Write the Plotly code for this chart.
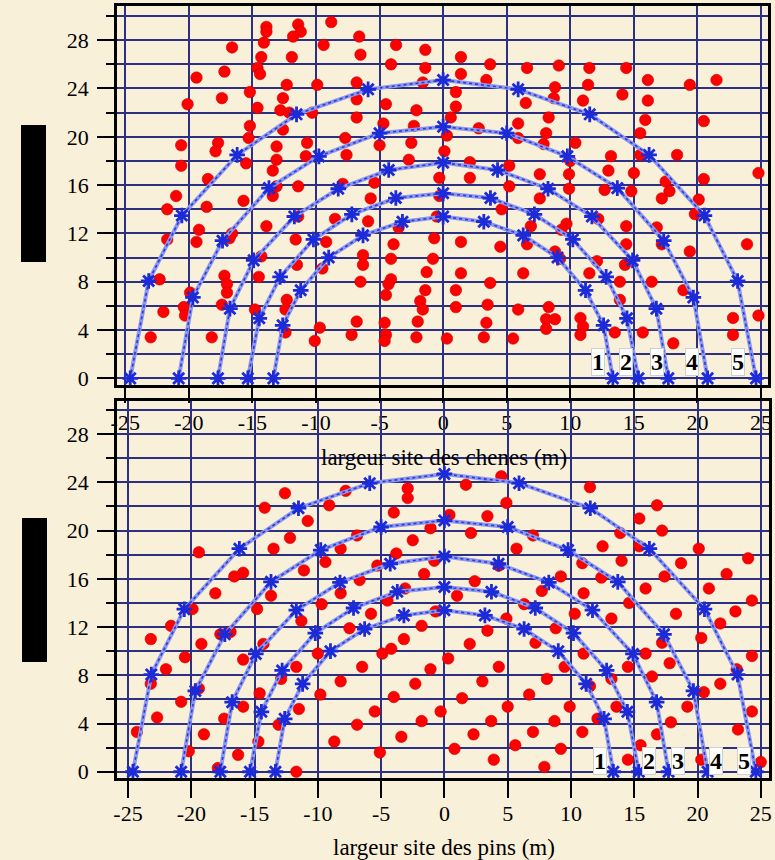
import plotly.graph_objects as go

# ---------------- data ----------------
# red points, upper panel (site des chenes)
top_x = [-13.9,-13.9,-11.4,-11.2,-11.8,-8.8,-6.6,-14.1,-16.6,-9.4,-3.7,-1.4,-6.5,-14.3,-11.9,-4.1,-14.6,-14.4,-17.2,-1.4,
         -19.4,-1.6,-6.8,-12.3,-9.9,-15.2,-20.1,-17.4,-12.6,-6.8,-4.5,-14.6,-12.8,-12.1,-10.3,-2.1,-6.8,-4.7,-2.3,-15.2,
         -12.6,-15.3,-20.6,-17.7,-17.9,-13.1,-13.1,-10.7,-7.7,-5.0,-2.5,-10.8,-7.6,-2.7,-20.6,-15.5,-13.4,-18.5,-5.4,-0.3,
         -11.4,-7.9,-13.1,-13.4,-21.0,-5.7,-15.7,-21.7,-18.6,-0.3,-11.4,-8.5,-5.9,-0.5,-13.9,-19.2,-19.4,-16.6,-16.8,-21.7,
         -3.5,-0.7,-11.6,-9.2,-3.9,-14.3,-6.3,-6.3,-4.1,-0.8,-11.5,-9.5,-1.3,-17.2,-17.0,-17.0,-14.5,-22.3,-6.5,-4.1,
         -4.3,-4.5,-1.4,-19.9,-12.3,-12.4,-1.8,-1.6,-17.4,-20.4,-20.3,-22.0,-14.8,-6.8,-4.6,-2.0,-9.7,-12.4,-23.0,-18.2,
         -7.2,-4.5,-4.6,-2.1,-10.1,0.3,
         1.4,3.7,1.4,3.4,1.0,1.0,0.6,0.3,0.1,6.6,9.1,11.5,14.4,16.1,19.4,21.5,8.8,11.4,14.1,8.7,
         6.5,11.0,16.1,2.8,5.9,8.3,15.9,20.5,5.9,8.1,7.9,15.5,10.4,15.5,13.2,18.4,10.0,2.1,2.1,5.2,
         7.6,9.9,13.0,15.0,24.8,20.5,5.2,9.9,12.7,14.8,17.5,17.8,17.2,7.6,20.1,4.6,19.8,12.2,14.4,6.9,
         9.7,9.3,16.8,6.6,1.4,4.5,14.4,17.2,23.9,19.4,8.8,9.2,14.3,12.1,1.4,6.3,3.7,11.5,13.9,16.4,
         1.0,18.9,13.9,1.0,3.5,5.9,8.3,8.1,8.8,8.1,3.4,10.8,11.0,10.8,13.5,15.7,22.8,24.8,22.8,18.1,
         3.2,5.5]
top_y = [29.1,28.7,29.3,28.7,28.3,29.5,28.3,27.8,27.4,27.6,27.6,27.2,26.8,26.6,26.6,26.0,25.7,25.2,25.4,25.7,
         24.9,24.5,24.5,24.3,24.3,23.7,22.7,23.2,23.2,23.1,22.7,22.4,22.2,22.0,22.0,22.2,21.6,21.1,20.9,20.9,
         20.6,19.9,19.3,19.5,18.8,19.2,18.1,19.5,19.9,19.3,19.5,18.4,18.5,18.1,17.6,17.8,17.2,16.5,16.2,16.6,
         15.9,16.1,15.9,15.1,15.1,14.9,14.7,14.0,14.2,15.1,13.4,13.2,13.0,13.4,12.6,12.3,11.3,12.0,11.6,11.5,
         12.5,11.6,11.5,11.3,11.1,10.1,10.2,9.4,9.9,9.9,9.4,9.1,8.8,8.5,7.8,7.1,8.4,8.2,8.0,8.2,
         7.8,6.9,7.3,7.1,6.5,5.7,6.4,5.7,6.1,5.9,5.2,5.5,5.7,4.7,4.6,4.7,4.2,3.8,3.4,3.4,
         3.6,3.6,3.1,3.4,3.1,3.3,
         26.6,26.0,25.2,24.7,23.7,22.5,21.6,20.1,18.8,25.7,25.9,25.7,25.7,24.7,24.3,24.7,24.1,24.3,23.5,23.2,
         22.8,23.0,23.0,20.7,21.1,21.6,21.4,21.3,19.9,20.3,19.4,20.3,19.5,18.5,18.4,18.5,18.0,17.9,16.6,17.6,
         16.9,16.9,17.2,17.0,17.0,16.5,15.9,15.7,15.6,15.5,16.3,15.5,14.9,14.9,14.8,14.0,13.6,13.2,12.6,12.6,
         12.8,12.3,12.5,11.1,11.3,10.9,11.1,11.1,11.1,10.5,10.5,9.9,9.4,9.7,8.7,8.7,7.9,8.7,8.0,8.0,
         7.3,7.3,6.5,5.9,6.1,5.7,5.9,4.9,4.9,4.1,4.6,5.0,4.3,3.6,3.8,3.8,5.0,5.2,3.6,2.9,
         3.4,3.3]

# red points, lower panel (site des pins)
bot_x = [-12.6,-7.8,-2.9,-2.9,-14.2,-9.1,-4.0,-10.8,-12.2,-6.9,-1.1,-2.5,-19.4,-13.5,-8.2,-3.8,-0.8,-5.3,-9.4,-11.1,
         -15.9,-16.6,-1.6,-6.7,-18.1,-13.7,-8.2,-3.1,-4.5,-19.9,-14.8,-9.7,-0.7,-5.8,-21.6,-11.3,-1.8,-7.5,-23.2,-17.7,
         -16.9,-3.2,-19.2,-14.3,-10.0,-4.9,-4.2,0.3,-20.5,-15.9,-22.0,-11.7,-6.5,-1.1,-23.2,-12.9,-8.2,-2.3,-19.4,-14.6,
         -9.8,-4.0,-20.8,-15.9,-11.5,-5.5,-0.3,-22.7,-17.4,-13.1,-6.9,-1.8,-24.3,-19.0,-3.4,-14.7,-8.7,-20.2,-16.3,-5.1,
         -17.9,-11.7,
         4.5,1.7,11.5,4.9,16.8,0.4,3.4,15.4,2.1,7.0,13.9,17.2,5.7,12.5,15.4,20.1,4.3,10.9,14.0,18.7,
         24.0,2.4,9.2,12.4,17.4,22.3,1.0,7.7,11.0,15.9,20.9,24.3,6.3,14.6,10.3,13.2,18.3,23.0,4.9,3.4,
         8.8,21.8,7.2,2.0,17.2,20.3,11.0,15.9,24.3,4.3,9.5,14.5,17.8,23.1,3.0,8.1,13.2,16.4,21.8,11.5,
         1.4,6.7,20.5,5.0,9.9,13.6,19.2,24.3,3.7,8.7,12.1,17.9,2.3,7.0,10.9,16.8,23.2,0.8,5.6,9.2,
         15.5,3.9,7.9,14.5,20.3,25.0]
bot_y = [23.1,23.3,23.5,22.7,21.9,22.1,21.5,20.8,19.4,19.6,20.2,19.2,18.2,18.5,18.5,18.1,17.5,17.1,17.4,16.7,
         16.5,16.2,16.4,15.9,14.8,14.6,14.8,15.2,14.2,13.5,13.5,13.9,13.3,13.1,12.1,12.5,12.1,11.9,11.0,11.4,
         11.6,11.0,10.6,10.6,9.8,9.8,10.2,9.4,9.5,9.3,8.5,8.7,8.7,8.5,7.3,7.7,7.5,7.3,6.9,6.5,
         6.4,6.2,5.8,5.4,5.2,5.0,5.0,4.5,4.4,3.9,3.9,4.2,3.3,3.1,2.9,2.5,2.5,1.7,1.4,1.6,
         0.3,0.0,
         24.5,23.8,23.6,22.3,22.1,21.3,21.2,21.0,19.8,19.6,19.8,20.0,18.5,18.7,18.7,18.5,17.1,17.3,17.5,17.3,
         17.7,15.8,16.2,16.1,16.2,16.4,14.6,15.0,14.8,15.2,15.2,14.2,13.9,14.0,13.1,12.7,13.1,13.3,12.7,11.7,
         11.9,12.3,10.7,10.6,10.7,11.1,9.8,9.8,9.6,8.7,8.7,8.7,9.0,8.5,7.5,7.7,7.7,7.9,7.3,7.1,
         6.1,6.4,6.6,5.4,5.4,5.4,5.4,5.0,4.2,4.2,4.4,4.1,3.1,3.3,3.3,3.1,3.5,1.9,2.2,1.9,
         2.2,1.0,0.4,1.0,1.0,0.8]

# blue reference curves (same in both panels), labelled 1..5
curve_names = ["1", "2", "3", "4", "5"]
curve_x = [
    [-13.35,-12.62,-11.2,-9.0,-6.3,-3.2,0,3.2,6.3,9.0,11.2,12.62,13.35],
    [-15.36,-14.46,-12.82,-10.2,-7.18,-3.72,0,3.72,7.18,10.2,12.82,14.46,15.36],
    [-17.71,-16.77,-14.9,-11.7,-8.25,-4.28,0,4.28,8.25,11.7,14.9,16.77,17.71],
    [-20.8,-19.68,-17.35,-13.7,-9.77,-5.0,0,5.0,9.77,13.7,17.35,19.68,20.8],
    [-24.61,-23.16,-20.55,-16.2,-11.53,-5.9,0,5.9,11.53,16.2,20.55,23.16,24.61],
]
curve_y = [
    [0,4.39,7.29,10.0,11.84,12.97,13.39,12.97,11.84,10.0,7.29,4.39,0],
    [0,4.97,8.4,11.5,13.58,14.93,15.32,14.93,13.58,11.5,8.4,4.97,0],
    [0,5.77,9.77,13.4,15.7,17.25,17.86,17.25,15.7,13.4,9.77,5.77,0],
    [0,6.7,11.4,15.75,18.38,20.3,20.84,20.3,18.38,15.75,11.4,6.7,0],
    [0,8.06,13.48,18.5,21.86,23.93,24.7,23.93,21.86,18.5,13.48,8.06,0],
]
label_x_top = [12.2, 14.35, 16.84, 19.6, 23.2]
label_x_bot = [12.33, 16.19, 18.49, 21.5, 23.66]

x_ticks = [-25, -20, -15, -10, -5, 0, 5, 10, 15, 20, 25]
title_top = "largeur site des chenes (m)"
title_bot = "largeur site des pins (m)"

# ---------------- figure ----------------
W, H = 775, 860
BG = "#f9f0da"
GRID = "#2d3082"
SERIF = "Liberation Serif"
RED = "#ff0000"

fig = go.Figure()

panels = [("x", "y", top_x, top_y), ("x2", "y2", bot_x, bot_y)]
for xa, ya, px, py in panels:
    fig.add_trace(go.Scatter(x=px, y=py, xaxis=xa, yaxis=ya, mode="markers",
                             marker=dict(color=RED, size=11.5, line=dict(width=0.6, color="#c80000")),
                             showlegend=False, hoverinfo="skip"))
    for cx, cy in zip(curve_x, curve_y):
        fig.add_trace(go.Scatter(x=cx, y=cy, xaxis=xa, yaxis=ya, mode="lines",
                                 line=dict(color="#8e98ee", width=4),
                                 showlegend=False, hoverinfo="skip"))
        fig.add_trace(go.Scatter(x=cx, y=cy, xaxis=xa, yaxis=ya, mode="lines+markers",
                                 line=dict(color="#2b3bd8", width=1.6, dash="dot"),
                                 marker=dict(symbol="asterisk-open", size=13, color="#1c2ad8",
                                             line=dict(width=2.8, color="#1c2ad8")),
                                 showlegend=False, hoverinfo="skip"))

def xaxis_cfg(dom, rng, ticklen, standoff):
    return dict(domain=dom, range=rng, tickmode="array", tickvals=x_ticks,
                ticktext=[str(v) for v in x_ticks],
                showline=True, linecolor="black", linewidth=2.5, mirror=True,
                ticks="outside", ticklen=ticklen, tickwidth=2, tickcolor="black",
                showgrid=True, gridcolor=GRID, gridwidth=2, zeroline=False,
                tickfont=dict(family=SERIF, size=22, color="black"),
                ticklabelstandoff=standoff, automargin=False, fixedrange=True)

def yaxis_cfg(dom, rng, anchor):
    return dict(domain=dom, range=rng, anchor=anchor, tickmode="linear", tick0=0, dtick=4,
                showline=True, linecolor="black", linewidth=2.5, mirror=True,
                ticks="outside", ticklen=17, tickwidth=2, tickcolor="black",
                showgrid=True, gridcolor=GRID, gridwidth=2, zeroline=False,
                minor=dict(dtick=2, tick0=0, ticks="outside", ticklen=8, tickwidth=2,
                           tickcolor="black", showgrid=True, gridcolor=GRID, gridwidth=2),
                tickfont=dict(family=SERIF, size=22, color="black"),
                ticklabelstandoff=4, automargin=False, fixedrange=True)

fig.update_layout(
    width=W, height=H,
    margin=dict(l=0, r=0, t=0, b=0),
    paper_bgcolor=BG, plot_bgcolor="rgba(0,0,0,0)",
    xaxis=xaxis_cfg([117 / W, 768 / W], [-25.65, 25.55], 15, 1),
    yaxis=yaxis_cfg([1 - 385 / H, 1 - 6 / H], [-0.55, 30.83], "x"),
    xaxis2=xaxis_cfg([117 / W, 769 / W], [-25.87, 25.65], 17, -3),
    yaxis2=yaxis_cfg([1 - 778 / H, 1 - 401 / H], [-0.52, 30.75], "x2"),
    font=dict(family=SERIF, color="black"),
)
fig.layout.xaxis.anchor = "y"
fig.layout.xaxis2.anchor = "y2"

# redaction blocks at left
fig.add_shape(type="rect", xref="paper", yref="paper", x0=21 / W, x1=46 / W,
              y0=1 - 262 / H, y1=1 - 125 / H, fillcolor="black", line=dict(width=0))
fig.add_shape(type="rect", xref="paper", yref="paper", x0=22 / W, x1=47 / W,
              y0=1 - 662 / H, y1=1 - 518 / H, fillcolor="black", line=dict(width=0))

# axis titles
fig.add_annotation(text=title_top, xref="paper", yref="paper", x=444 / W, y=1 - 457 / H,
                   showarrow=False, font=dict(family=SERIF, size=23, color="black"),
                   xanchor="center", yanchor="middle")
fig.add_annotation(text=title_bot, xref="paper", yref="paper", x=444 / W, y=1 - 847 / H,
                   showarrow=False, font=dict(family=SERIF, size=23, color="black"),
                   xanchor="center", yanchor="middle")

# curve labels
for name, lx in zip(curve_names, label_x_top):
    fig.add_annotation(text="<b>" + name + "</b>", x=lx, y=1.35, xref="x", yref="y",
                       showarrow=False, bgcolor="white", bordercolor="#cfcfcf", borderwidth=1,
                       borderpad=0, font=dict(family=SERIF, size=24, color="black"))
for name, lx in zip(curve_names, label_x_bot):
    fig.add_annotation(text="<b>" + name + "</b>", x=lx, y=0.85, xref="x2", yref="y2",
                       showarrow=False, bgcolor="white", bordercolor="#cfcfcf", borderwidth=1,
                       borderpad=0, font=dict(family=SERIF, size=24, color="black"))

fig.write_html("out.html", config={"displayModeBar": False},
               post_script="document.body.style.margin='0';document.body.style.overflow='hidden';")
